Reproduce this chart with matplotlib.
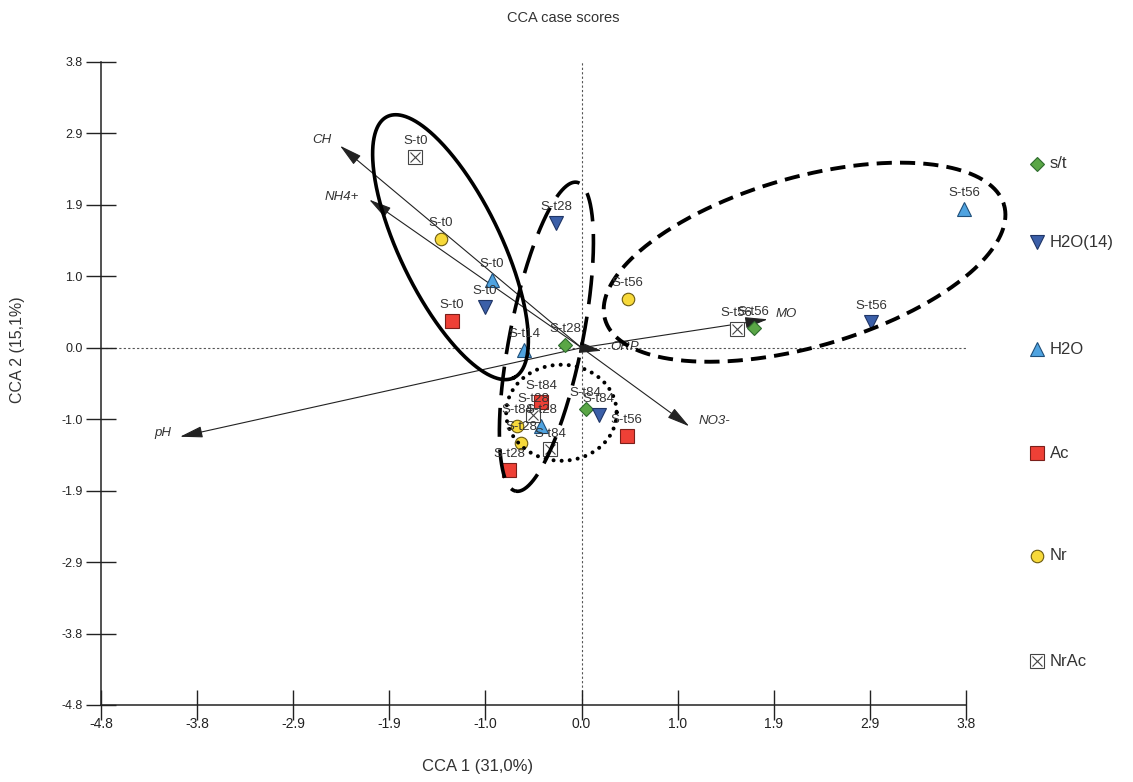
import numpy as np
import matplotlib.pyplot as plt
from matplotlib.lines import Line2D

plt.rcParams['font.family'] = ['Liberation Sans', 'DejaVu Sans']

# both axes use the same tick interval
step = 0.955
tick_pos = step * np.arange(-5, 5)
tick_labels = ['-4.8', '-3.8', '-2.9', '-1.9', '-1.0', '0.0', '1.0', '1.9', '2.9', '3.8']

# case scores (CCA 1, CCA 2) for each treatment
st_x = [-0.16, 1.71, 0.04]
st_y = [0.04, 0.27, -0.82]
st_lab = ['S-t28', 'S-t56', 'S-t84']

h2o14_x = [-0.96, -0.25, 2.88, 0.17]
h2o14_y = [0.55, 1.67, 0.35, -0.90]
h2o14_lab = ['S-t0', 'S-t28', 'S-t56', 'S-t84']

h2o_x = [-0.89, -0.57, 3.80, -0.40]
h2o_y = [0.91, -0.03, 1.85, -1.04]
h2o_lab = ['S-t0', 'S-t14', 'S-t56', 'S-t28']

ac_x = [-1.29, 0.45, -0.40, -0.72]
ac_y = [0.36, -1.18, -0.72, -1.63]
ac_lab = ['S-t0', 'S-t56', 'S-t84', 'S-t28']

nr_x = [-1.40, 0.46, -0.64, -0.60]
nr_y = [1.45, 0.65, -1.04, -1.27]
nr_lab = ['S-t0', 'S-t56', 'S-t84', 'S-t28']

nrac_x = [-1.65, 1.54, -0.48, -0.31]
nrac_y = [2.55, 0.25, -0.90, -1.36]
nrac_lab = ['S-t0', 'S-t56', 'S-t28', 'S-t84']

# environmental variables (biplot arrows)
env_names = ['CH', 'NH4+', 'pH', 'NO3-', 'MO', 'ORP']
env_x = [-2.40, -2.11, -3.99, 1.07, 1.85, 0.20]
env_y = [2.70, 1.98, -1.19, -1.05, 0.38, -0.04]
env_off = [(-6, 4), (-7, 2), (-6, 3), (7, 4), (6, 4), (6, 3)]
env_ha = ['right', 'right', 'right', 'left', 'left', 'left']

# group outlines: centre, two conjugate semi-axes
groups = [
    dict(c=(-1.302, 1.344), u=(0.628, -1.746), v=(-0.452, -0.292), ls='-', lw=2.6),
    dict(c=(-0.349, 0.147), u=(-0.304, -2.064), v=(0.355, -0.094), ls=(0, (8, 3.5)), lw=2.6),
    dict(c=(2.216, 1.143), u=(1.982, 0.766), v=(0.234, -1.088), ls=(0, (3.9, 2.1)), lw=2.8),
    dict(c=(-0.20, -0.869), u=(0.549, 0.0), v=(0.0, -0.642), ls=(0, (0.01, 2.0)), lw=2.9),
]

series = [
    ('s/t', st_x, st_y, st_lab, dict(marker='D', ms=7, mfc='#5aa646', mec='#2e6b2e')),
    ('H2O(14)', h2o14_x, h2o14_y, h2o14_lab, dict(marker='v', ms=10, mfc='#3b5fa8', mec='#1f3566')),
    ('H2O', h2o_x, h2o_y, h2o_lab, dict(marker='^', ms=10, mfc='#4fa3e0', mec='#1f4f7a')),
    ('Ac', ac_x, ac_y, ac_lab, dict(marker='s', ms=9.5, mfc='#ee4036', mec='#7a1f1a')),
    ('Nr', nr_x, nr_y, nr_lab, dict(marker='o', ms=9, mfc='#f7d93a', mec='#6b5a10')),
    ('NrAc', nrac_x, nrac_y, nrac_lab, dict(marker='s', ms=9.5, mfc='white', mec='#444444')),
]

fig = plt.figure(figsize=(11.33, 7.82), dpi=100)
ax = fig.add_axes([0.0891, 0.0985, 0.7635, 0.8223])

lo, hi = tick_pos[0], tick_pos[-1]
ax.set_xlim(lo, hi)
ax.set_ylim(lo, hi)
ax.set_xticks(tick_pos)
ax.set_yticks(tick_pos)
ax.set_xticklabels(tick_labels, family=['Liberation Sans Narrow', 'Liberation Sans'], fontsize=10)
ax.set_yticklabels(tick_labels, fontsize=9)
ax.tick_params(axis='both', direction='inout', length=22, width=1, colors='#222222')
ax.tick_params(axis='x', pad=-2)
ax.tick_params(axis='y', pad=2)
for s in ['top', 'right']:
    ax.spines[s].set_visible(False)
for s in ['left', 'bottom']:
    ax.spines[s].set_linewidth(1.1)
    ax.spines[s].set_color('#222222')

# zero lines
ax.plot([lo, hi], [0, 0], ls=(0, (2, 2)), lw=0.8, color='#555555', zorder=1)
ax.plot([0, 0], [lo, hi], ls=(0, (2, 2)), lw=0.8, color='#555555', zorder=1)

# arrows for the environmental variables
for name, ex, ey, off, ha in zip(env_names, env_x, env_y, env_off, env_ha):
    ax.annotate('', xy=(ex, ey), xytext=(0, 0),
                arrowprops=dict(arrowstyle='-|>,head_length=1.4,head_width=0.35',
                                mutation_scale=10, color='#222222', lw=0.8,
                                shrinkA=0, shrinkB=0), zorder=2)
    ax.annotate(name, (ex, ey), xytext=off, textcoords='offset points',
                ha=ha, va='center', fontsize=9.5, style='italic', color='#333333')

# group outlines
t = np.linspace(0, 2 * np.pi, 500)
for g in groups:
    gx = g['c'][0] + g['u'][0] * np.cos(t) + g['v'][0] * np.sin(t)
    gy = g['c'][1] + g['u'][1] * np.cos(t) + g['v'][1] * np.sin(t)
    dotted = g['ls'] != '-' and g['ls'][1][0] < 1
    ax.plot(gx, gy, color='black', ls=g['ls'], lw=g['lw'],
            dash_capstyle='round' if dotted else 'butt',
            zorder=4, clip_on=False)

# case scores with their labels
for name, xs, ys, labs, style in series:
    ax.plot(xs, ys, ls='none', mew=0.8, zorder=3, clip_on=False, **style)
    if name == 'NrAc':
        ax.plot(xs, ys, ls='none', marker='x', ms=7, mew=0.8, color='#444444', zorder=3)
    for x, y, lab in zip(xs, ys, labs):
        ax.annotate(lab, (x, y), xytext=(0, 11.5), textcoords='offset points',
                    ha='center', va='center', fontsize=9.5, color='#333333', zorder=5)

# legend column on the right
leg_y = [164, 242, 349, 453, 556, 661]
for (name, xs, ys, labs, style), py in zip(series, leg_y):
    fy = 1 - py / 782
    fig.add_artist(Line2D([1037 / 1133], [fy], ls='none', mew=0.8,
                          transform=fig.transFigure, **style))
    if name == 'NrAc':
        fig.add_artist(Line2D([1037 / 1133], [fy], ls='none', marker='x', ms=7,
                              mew=0.8, color='#444444', transform=fig.transFigure))
    fig.text(1050 / 1133, fy, name, ha='left', va='center', fontsize=12, color='#333333')

fig.text(563 / 1133, 1 - 18 / 782, 'CCA case scores', ha='center', va='center',
         fontsize=10.5, color='#333333')
fig.text(478 / 1133, 1 - 767 / 782, 'CCA 1 (31,0%)', ha='center', va='center',
         fontsize=12, color='#333333', family=['Liberation Sans Narrow', 'Liberation Sans'])
fig.text(18 / 1133, 1 - 350 / 782, 'CCA 2 (15,1%)', ha='center', va='center',
         rotation=90, fontsize=11.5, color='#333333')

fig.savefig('out.png', dpi=100)
